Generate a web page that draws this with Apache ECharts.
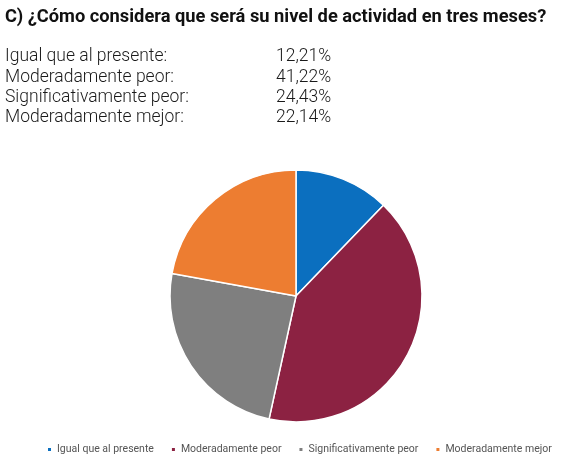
<!DOCTYPE html>
<html>
<head>
<meta charset="utf-8">
<script src="https://cdn.jsdelivr.net/npm/echarts@6/dist/echarts.min.js"></script>
<style>
html,body{margin:0;padding:0;background:#fff;}
#c{width:575px;height:459px;}
</style>
</head>
<body>
<div id="c"></div>
<script>
var titleText = 'C) ¿Cómo considera que será su nivel de actividad en tres meses?';
var categories = ['Igual que al presente', 'Moderadamente peor', 'Significativamente peor', 'Moderadamente mejor'];
var values = [12.21, 41.22, 24.43, 22.14];
var labels = ['12,21%', '41,22%', '24,43%', '22,14%'];
var colors = ['#0B6FBF', '#8C2242', '#7F7F7F', '#ED7D31'];

var chart = echarts.init(document.getElementById('c'), null, {renderer: 'canvas'});
var font = 'Roboto, "Noto Sans", sans-serif';

var graphics = [];
categories.forEach(function (c, i) {
  var y = 57 + i * 20.3;
  graphics.push({
    type: 'text', x: 5, y: y,
    style: {text: c + ':', font: '300 17.5px ' + font, fill: '#1a1a1a', textVerticalAlign: 'middle', verticalAlign: 'middle'}
  });
  graphics.push({
    type: 'text', x: 276, y: y,
    style: {text: labels[i], font: '300 17.5px ' + font, fill: '#1a1a1a', textVerticalAlign: 'middle', verticalAlign: 'middle'}
  });
});

chart.setOption({
  animation: false,
  color: colors,
  title: {
    text: titleText, left: 0, top: 3,
    textStyle: {fontFamily: font, fontSize: 18.3, fontWeight: 'bold', color: '#111'}
  },
  graphic: graphics,
  legend: {
    top: 444, left: 46, padding: 0,
    icon: 'rect', itemWidth: 5, itemHeight: 5, itemGap: 16,
    textStyle: {fontFamily: font, fontSize: 10.5, color: '#555'},
    data: categories
  },
  series: [{
    type: 'pie',
    center: [296, 296],
    radius: 126,
    startAngle: 90,
    clockwise: true,
    label: {show: false},
    labelLine: {show: false},
    itemStyle: {borderColor: '#fff', borderWidth: 1.5},
    data: categories.map(function (c, i) { return {name: c, value: values[i]}; })
  }]
});
</script>
</body>
</html>
